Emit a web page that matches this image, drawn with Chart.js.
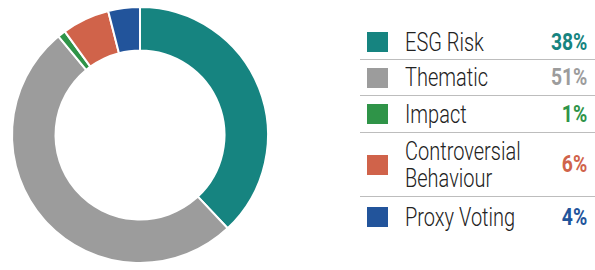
<!DOCTYPE html>
<html>
<head>
    <meta charset="UTF-8" />
    <title>ESG Strategy Breakdown</title>
    <script src="https://cdn.jsdelivr.net/npm/chart.js"></script>
    <style>
        body { margin: 0; width: 595px; height: 270px; background: #fff; overflow: hidden; position: relative;
               font-family: "Roboto", sans-serif; }
        #wrap { position: absolute; left: 0; top: 0; width: 280px; height: 270px; }
        #legend { position: absolute; left: 360px; top: 25px; width: 235px; }
        .row { display: flex; align-items: center; border-bottom: 1px solid #bdbdbd; padding: 0 8px 0 7px; box-sizing: border-box; position: relative; }
        .row:last-child { border-bottom: none; }
        .sw { width: 21px; height: 20px; flex: none; }
        .lab { flex: 1; margin-left: 17px; font-size: 25px; font-weight: 300; color: #222; line-height: 27px;
               transform: scaleX(0.8); transform-origin: left center; white-space: nowrap; }
        .pct { font-weight: bold; font-size: 23px; transform: scaleX(0.84); transform-origin: right center; }
    </style>
</head>
<body>
    <div id="wrap"><canvas id="donut"></canvas></div>
    <div id="legend"></div>

    <script>
        // categories and shares (%)
        const categories = ['ESG Risk', 'Thematic', 'Impact', ['Controversial', 'Behaviour'], 'Proxy Voting'];
        const shares = [38, 51, 1, 6, 4];
        const colours = ['#168480', '#9c9c9c', '#2f9448', '#d0634a', '#22549b'];
        const rowHeights = [35, 36, 37, 64, 40];

        // legend table on the right
        const legend = document.getElementById('legend');
        categories.forEach((c, i) => {
            const row = document.createElement('div');
            row.className = 'row';
            row.style.height = rowHeights[i] + 'px';
            const lab = Array.isArray(c) ? c.join('<br>') : c;
            row.innerHTML = `<div class="sw" style="background:${colours[i]}"></div>` +
                `<div class="lab">${lab}</div>` +
                `<div class="pct" style="color:${colours[i]}">${shares[i]}%</div>`;
            legend.appendChild(row);
        });

        const ctx = document.getElementById('donut').getContext('2d');
        new Chart(ctx, {
            type: 'doughnut',
            data: {
                labels: categories.map(c => Array.isArray(c) ? c.join(' ') : c),
                datasets: [{
                    data: shares,
                    backgroundColor: colours,
                    borderColor: '#ffffff',
                    borderWidth: 2
                }]
            },
            options: {
                responsive: true,
                maintainAspectRatio: false,
                animation: false,
                cutout: '66%',
                layout: { padding: 6 },
                plugins: {
                    legend: { display: false },
                    tooltip: { enabled: false }
                }
            }
        });
    </script>
</body>
</html>
